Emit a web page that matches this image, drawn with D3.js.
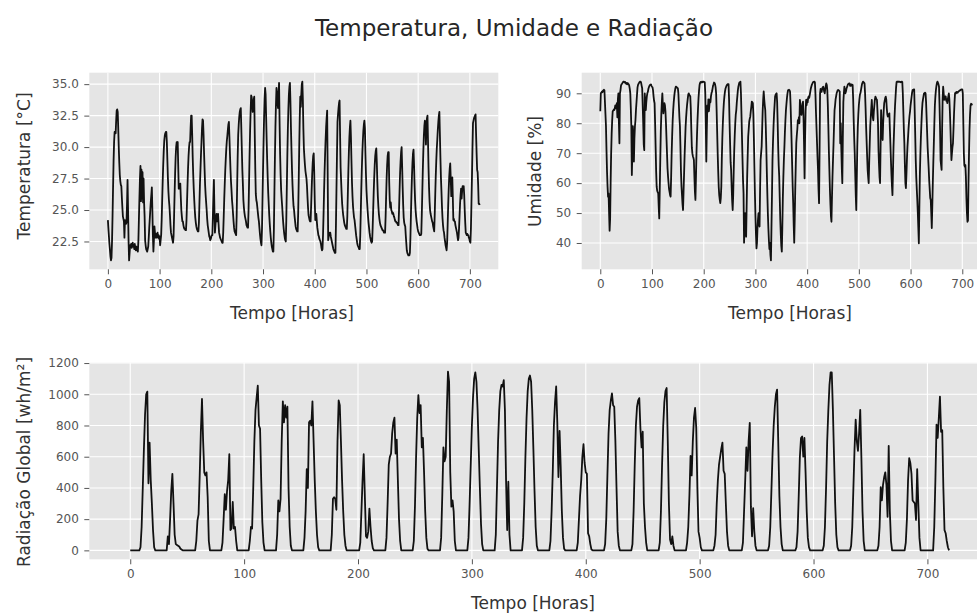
<!DOCTYPE html>
<html>
<head>
<meta charset="utf-8">
<script src="https://cdn.jsdelivr.net/npm/d3@7"></script>
<style>
  body { margin: 0; background: #ffffff; }
  svg { display: block; }
  text { font-family: "DejaVu Sans", "Noto Sans", sans-serif; }
</style>
</head>
<body>
<svg id="chart" width="977" height="614"></svg>
<script>
// Hourly readings, one day (24 values) per line
const temperatura = [
  24.2,23.5,22.9,22.3,21.8,21.3,21.0,21.2,22.5,24.5,26.8,28.9,30.4,31.2,31.1,31.1,32.1,32.9,33.0,32.8,31.5,30.0,28.8,27.8,
  27.3,27.0,26.9,26.0,25.2,24.5,24.3,24.1,22.8,24.2,24.0,23.9,24.0,25.5,27.4,25.0,22.5,21.0,21.6,22.2,22.1,22.3,22.0,22.2,
  22.4,22.1,22.2,21.9,22.3,22.0,21.8,22.1,21.9,21.8,21.7,22.6,24.3,26.0,27.5,28.5,25.7,28.2,25.9,28.0,25.6,27.5,25.6,24.5,
  22.6,22.2,21.9,21.8,21.7,21.9,22.1,22.8,23.6,24.3,25.0,25.7,26.2,26.8,25.0,23.0,21.7,22.6,23.7,23.2,22.8,23.1,22.8,23.0,
  23.2,22.8,23.0,22.7,22.9,22.2,22.6,23.0,24.2,25.8,27.3,28.6,29.7,30.5,30.9,31.1,31.2,31.2,30.4,29.0,27.6,26.5,25.8,25.3,
  24.6,23.8,23.2,23.0,22.8,22.6,22.4,22.9,24.5,26.3,27.9,29.2,30.0,30.4,30.3,30.4,28.5,26.7,26.7,27.0,27.1,26.0,25.0,24.5,
  24.1,24.1,23.8,23.6,23.5,23.5,23.4,23.4,24.2,25.6,27.0,28.3,29.3,30.0,30.4,30.4,31.6,32.5,32.5,31.0,29.2,27.8,26.7,25.8,
  25.0,24.4,24.0,23.7,23.5,23.4,23.3,23.3,24.0,25.5,27.0,28.2,29.4,30.4,31.5,32.2,32.1,31.0,29.5,28.2,27.0,26.2,25.6,25.0,
  24.3,23.8,23.5,23.2,22.9,22.8,22.6,22.7,22.9,23.0,23.0,24.5,26.0,27.4,25.0,23.2,23.8,24.3,24.7,24.1,24.5,24.7,23.9,23.2,
  23.0,22.8,22.7,22.6,22.5,22.4,22.4,23.2,24.5,25.9,27.1,28.2,29.1,29.9,30.5,30.9,31.4,31.8,32.0,30.8,29.5,28.3,27.3,26.6,
  25.8,25.3,24.7,24.1,23.6,23.3,23.2,23.1,23.0,24.5,27.0,29.3,31.0,31.8,32.4,32.8,33.0,33.1,31.5,29.8,28.2,27.1,25.8,25.2,
  24.8,24.5,24.3,24.1,23.8,23.7,23.6,23.6,25.0,27.2,29.4,31.3,32.8,34.1,34.0,33.4,32.8,33.0,33.8,34.0,31.0,28.3,26.3,25.8,
  25.6,25.2,24.8,24.4,24.1,23.6,23.1,22.7,22.4,22.2,23.5,25.8,28.2,30.4,32.3,33.8,34.7,34.2,32.4,30.6,29.0,27.6,26.4,25.5,
  24.6,23.9,23.3,22.8,22.4,22.1,21.9,21.7,21.7,23.5,26.4,29.2,31.6,33.4,34.7,34.3,33.5,33.1,34.2,35.1,32.0,29.5,27.8,26.6,
  25.9,25.3,24.6,24.0,23.5,23.1,22.8,22.6,22.5,24.2,26.8,29.3,31.4,33.0,34.2,34.8,35.1,33.6,31.5,29.8,28.2,27.0,26.0,25.3,
  25.0,24.5,24.1,23.7,23.5,23.4,23.3,23.3,24.8,27.3,30.0,32.3,34.0,33.2,34.2,35.0,35.2,33.8,31.5,29.9,29.2,28.6,28.1,27.8,
  27.5,26.9,26.0,25.2,24.6,24.4,24.2,24.1,24.1,25.3,26.6,27.8,28.7,29.3,29.5,28.0,25.8,24.2,24.4,24.7,24.1,23.6,23.3,23.0,
  22.9,22.7,22.6,22.5,22.3,22.0,21.8,21.9,23.0,24.6,26.4,28.0,29.4,30.6,31.6,32.3,32.9,28.0,22.6,22.9,23.1,23.2,23.2,22.9,
  22.7,22.5,22.3,22.1,21.9,21.8,21.7,21.6,21.6,23.8,26.6,29.4,32.0,32.6,33.1,33.5,33.7,31.0,28.4,27.3,26.3,25.5,25.0,24.6,
  24.3,24.0,23.8,23.7,23.6,23.5,23.5,24.5,26.3,28.1,29.6,30.8,31.6,32.1,30.8,28.9,27.2,26.1,25.3,24.8,24.4,24.2,23.8,23.4,
  23.0,22.7,22.4,22.2,22.1,22.0,21.9,21.9,23.0,24.8,26.6,28.2,29.5,30.5,31.3,31.8,32.1,31.5,29.6,27.9,26.6,25.8,25.1,24.5,
  24.0,23.6,23.2,22.9,22.7,22.5,22.4,22.5,23.6,25.0,26.4,27.6,28.6,29.3,29.7,29.9,28.8,27.3,26.1,25.3,24.7,24.3,24.0,23.8,
  23.7,23.6,23.5,23.4,23.4,23.3,23.2,23.2,23.2,24.4,26.0,27.5,28.6,29.3,29.6,29.6,27.2,25.8,25.2,25.6,25.0,24.9,24.7,24.8,
  24.7,24.5,24.4,24.2,24.1,24.1,24.0,24.0,23.9,23.8,23.8,25.0,26.5,27.9,28.9,29.6,30.0,28.5,26.8,25.4,24.4,24.0,23.8,23.7,
  23.0,22.4,21.8,21.6,21.5,21.4,21.4,21.4,21.6,22.8,24.6,26.3,27.7,28.8,29.5,29.8,28.6,27.0,25.8,25.0,24.5,24.1,23.8,23.5,
  23.3,23.2,23.1,23.0,23.0,23.0,23.1,24.6,26.4,28.2,29.7,30.9,31.7,32.1,31.9,30.2,31.6,32.3,32.5,30.5,28.4,26.8,25.7,25.0,
  24.7,24.5,24.3,24.1,24.0,23.7,23.5,23.3,24.6,26.2,27.7,28.9,29.9,30.6,31.4,32.0,32.5,32.8,31.0,29.2,27.6,26.5,25.3,24.4,
  23.8,23.4,23.2,22.8,22.5,22.2,22.0,21.8,22.4,23.8,25.3,26.6,27.6,28.3,28.7,27.5,26.1,26.9,27.6,26.0,24.2,24.3,24.1,24.1,
  23.8,23.6,23.4,23.2,22.9,22.6,22.8,23.5,24.5,25.5,26.2,26.7,25.9,26.5,26.9,26.6,26.9,26.2,25.0,24.0,23.2,23.1,23.0,23.1,
  23.0,23.0,22.8,22.7,22.5,22.4,23.5,25.5,27.6,29.9,31.9,32.1,32.3,32.4,32.5,32.6,31.0,29.5,28.2,28.0,27.0,25.5,25.5,25.4
];

const umidade = [
  84,90,90.2,90.5,90.3,90.8,91,91.2,91,87,83,79,71,64,59,55.5,56.6,50,44.1,48,60,70,76.6,81,
  84,84.2,84.5,84.4,85,86,85,85.5,86.7,82,88,90,80,73.3,90,91,92.5,93,93.2,93.5,93.8,93.9,93.9,93.6,
  93.8,93.5,93.2,93.5,93,93.4,93.2,93,92.5,91.5,90,85,79,62.7,70,79,73,67.2,75,79,81,84.4,87,89.5,
  92,92.8,93.2,93.5,93.8,93.9,93.9,93.5,92.5,91.7,86,80,73,71,90,86,84.4,87,89,90,90.5,91.5,92,92.5,
  92.8,92.8,93,92.5,92.2,92,91,89,87.5,86.7,80,72,64,58.8,57.5,57,56.6,52,48.2,58,68,77.2,83,87,
  90,86,83.3,85,86.7,86,84,80,75,70,65,62.2,60,58,57,56,55.5,62,70,76,81,84.4,87,89,
  90.5,91.5,92.2,92.2,92,91.8,91.7,90,86,82,79,72,64,59,56,53,51,57,63,69,74,79,82,84.5,
  86.5,88,89.5,90,89.5,89.2,89,85,78,72,70,69,68.5,67.7,62,57,54.4,62,70,76,81,85,88.5,91,
  92.8,93.5,93.8,93.6,93.8,93.9,93.7,93.9,93.8,93.8,93.7,90,80,67.2,78,86,83.9,88,84,86,88,87,89,90,
  90.6,91.5,92.5,93,93.6,93.4,93,92,90,84,77,70,64,58.8,56,54.5,53.3,55,58.8,68,75,80,84,87,
  89,90.5,91.5,92,92.5,92.8,93,93.1,93.1,88,80,73.3,67,64.4,58.8,54,51,56,64,71,76,80,83,84.4,
  87,89,91,92.2,93,93.6,93.7,93.9,90,83,75.5,68,61,56.6,40.1,46,50,45,42.1,52,62,69,75.5,78,
  80.5,81.5,82.2,84,85.5,87.2,87,86.7,83,75,66,56.6,49,43,38.2,40,45,48,50,47,45.5,58,67.7,70,
  72.2,78,84,88,90.6,88,86,84.4,79,72,64,56.6,50,45,41,38,40,36,34.2,45,56,67.7,74,79,
  83,86,88.9,89.5,89.8,90,87,80,72,66,62.2,55,48,43,39,37.1,45,55,62,67.7,72,77,81,84.4,
  86.5,88.5,90,91,91.1,91.2,91,90.5,86,80,73.3,66,59,53.3,46,40.1,48,58,66,73.3,76,78,81,80,
  82,80,87.8,86,84,82.8,85,86.5,87.2,82,73,61.6,75,84,87.8,86,88,87,88.5,89,88.5,89.4,90.5,91.5,
  92.2,92.8,93.2,93.6,93.8,93.8,93.9,93.7,90,84,79,74,69,64.4,58,53.3,70,90,91.5,91,90.5,91.5,92,92.2,
  91.5,90.5,90,91.5,92.5,93.3,92.8,91,86,79,71,64.4,58,53,49,47.1,55,62,67.7,73,79,84.4,86,88,
  89,90,90.5,91,91.1,91,90.8,90.6,73.3,80,72,65,60,75,87,90,92.2,91,90,90.6,91.5,92,92.5,93,
  93.2,93.3,93.3,92.5,93,92.5,93,92.8,92.8,88,81,75,70,63,56,51,62,72,79,83,86,88,89.5,90,
  91,92,93,93.5,93.9,93.8,93.5,93.3,90,85,79,74,69,64.4,62,60,67,73,79,82,85,87.8,84,82,
  81,84,86,88,88.9,88.5,88,87.8,84,80,71,66,62,60,72,84.4,80,76,74.4,80,84,86.7,87.5,88.5,
  88.9,88,85,83,82.2,82.5,83,83.3,78,73,67.7,63,59,56,64,72,77,82,86,89,92,93.8,93.9,93.8,
  93.9,93.8,93.9,93.8,93.8,93.7,93.8,93.9,93.8,90,84,78,73.3,66,60,58.3,63,68,72.2,75,78,80.5,82.5,84,
  86,87.5,89,90.3,91.1,91.2,91.3,91.3,84,76,67.7,62,58,54.4,50,45,39.9,52,63,70,75.5,80,84,86.7,
  88,89,90,90,90.2,90,87,82,77,72,68.5,65,61,58,55,54.4,50,45,52,60,67,73.3,80,86,
  89,91.1,92.5,93.5,93.9,93.5,93,92.2,86,78,67.7,66,64.4,78,88,92.2,90,87.8,88.5,89,88.9,87.5,88,86.7,
  88,89,90,88,84,79,73,67.7,70,72,73.3,78,83,87,90,90.2,90,90.5,90.4,90.2,90.5,90.6,90.8,91,
  91,91.2,91.3,91.2,91.3,90,80,70,66,65.5,66,62,55,50,47.1,47.5,60,70,78,83,86,86.5,86.4,86
];

const radiacao = [
  0,0,0,0,0,0,0,0,0,20,150,400,650,870,1000,1017,430,690,450,300,130,20,0,0,
  0,0,0,0,0,0,0,0,0,90,40,200,380,490,300,100,40,35,30,25,12,5,0,0,
  0,0,0,0,0,0,0,0,0,0,60,190,230,480,760,970,700,500,480,500,340,60,0,0,
  0,0,0,0,0,0,0,0,0,50,200,360,260,380,450,616,130,140,310,140,150,60,0,0,
  0,0,0,0,0,0,0,0,0,60,150,140,400,700,900,980,1055,800,780,450,180,50,0,0,
  0,0,0,0,0,0,0,0,0,100,320,250,330,700,955,820,930,850,920,400,150,30,0,0,
  0,0,0,0,0,0,0,0,0,80,250,520,400,820,830,800,955,700,450,250,100,20,0,0,
  0,0,0,0,0,0,0,0,0,100,330,340,330,260,700,960,930,700,450,250,100,30,0,0,
  0,0,0,0,0,0,0,0,0,0,50,250,450,616,350,90,80,120,268,150,60,15,0,0,
  0,0,0,0,0,0,0,0,0,80,300,550,600,620,750,820,850,620,710,450,200,60,0,0,
  0,0,0,0,0,0,0,0,0,60,280,600,850,995,880,930,660,720,500,250,80,10,0,0,
  0,0,0,0,0,0,0,0,0,80,350,660,570,600,900,1145,1080,500,280,320,250,60,0,0,
  0,0,0,0,0,0,0,0,0,80,300,550,800,980,1100,1140,1080,900,650,400,170,40,0,0,
  0,0,0,0,0,0,0,0,0,100,400,700,900,1020,1060,1050,1090,900,450,130,440,100,0,0,
  0,0,0,0,0,0,0,0,0,80,300,600,850,1020,1100,1120,1080,900,650,380,150,30,0,0,
  0,0,0,0,0,0,0,0,0,60,250,500,800,950,1050,820,470,765,530,250,80,10,0,0,
  0,0,0,0,0,0,0,0,0,50,200,350,450,600,680,560,500,490,110,90,40,5,0,0,
  0,0,0,0,0,0,0,0,0,40,200,480,750,900,960,1005,930,920,700,400,120,30,0,0,
  0,0,0,0,0,0,0,0,0,40,250,550,800,920,960,975,780,660,760,300,150,50,0,0,
  0,0,0,0,0,0,0,0,0,50,250,550,800,950,1020,1040,700,300,70,40,90,30,0,0,
  0,0,0,0,0,0,0,0,0,50,150,350,605,480,700,850,912,785,400,120,80,20,0,0,
  0,0,0,0,0,0,0,0,0,30,100,300,450,550,600,650,690,510,490,300,120,30,0,0,
  0,0,0,0,0,0,0,0,0,0,50,250,450,660,510,700,817,280,90,270,120,30,0,0,
  0,0,0,0,0,0,0,0,0,30,150,380,620,800,920,1000,1030,700,350,150,40,0,0,0,
  0,0,0,0,0,0,0,0,0,20,120,350,600,720,730,600,720,500,250,80,20,0,0,0,
  0,0,0,0,0,0,0,0,0,30,150,400,700,900,1060,1140,1140,900,600,300,100,20,0,0,
  0,0,0,0,0,0,0,0,0,30,150,400,650,838,700,637,750,900,600,250,60,0,0,0,
  0,0,0,0,0,0,0,0,0,30,150,405,320,420,468,500,420,215,670,250,60,0,0,0,
  0,0,0,0,0,0,0,0,0,50,200,450,590,560,490,320,310,300,195,520,300,80,0,0,
  0,0,0,0,0,0,0,0,0,0,150,450,806,720,850,985,760,770,400,130,110,60,20,0
];

// Tick values
const tempoTicks = [0, 100, 200, 300, 400, 500, 600, 700];
const temperaturaTicks = [22.5, 25.0, 27.5, 30.0, 32.5, 35.0];
const umidadeTicks = [40, 50, 60, 70, 80, 90];
const radiacaoTicks = [0, 200, 400, 600, 800, 1000, 1200];

const horas = d3.range(temperatura.length);

// 5% margin on both ends of a data range
function comMargem(ext) {
  const m = (ext[1] - ext[0]) * 0.05;
  return [ext[0] - m, ext[1] + m];
}

const svg = d3.select("#chart");

svg.append("text")
  .attr("x", 514).attr("y", 36)
  .attr("text-anchor", "middle")
  .attr("font-size", 23)
  .attr("fill", "#262626")
  .text("Temperatura, Umidade e Radiação");

let clipId = 0;

function painel(cfg) {
  const { x0, x1, y0, y1, valores, yTicks, yFmt, xLabel, yLabel } = cfg;
  const x = d3.scaleLinear().domain(comMargem(d3.extent(horas))).range([x0, x1]);
  const y = d3.scaleLinear().domain(comMargem(d3.extent(valores))).range([y1, y0]);
  const g = svg.append("g");

  g.append("rect")
    .attr("x", x0).attr("y", y0)
    .attr("width", x1 - x0).attr("height", y1 - y0)
    .attr("fill", "#E5E5E5");

  // grid
  g.append("g").selectAll("line").data(tempoTicks).join("line")
    .attr("x1", d => x(d)).attr("x2", d => x(d))
    .attr("y1", y0).attr("y2", y1)
    .attr("stroke", "#ffffff").attr("stroke-width", 1.1);
  g.append("g").selectAll("line").data(yTicks).join("line")
    .attr("x1", x0).attr("x2", x1)
    .attr("y1", d => y(d)).attr("y2", d => y(d))
    .attr("stroke", "#ffffff").attr("stroke-width", 1.1);

  // axes
  const ax = g.append("g")
    .attr("transform", `translate(0,${y1})`)
    .call(d3.axisBottom(x).tickValues(tempoTicks).tickFormat(d3.format("d")).tickSize(5).tickPadding(5.5));
  const ay = g.append("g")
    .attr("transform", `translate(${x0},0)`)
    .call(d3.axisLeft(y).tickValues(yTicks).tickFormat(yFmt).tickSize(5).tickPadding(5.5));
  [ax, ay].forEach(a => {
    a.select(".domain").remove();
    a.selectAll(".tick line").attr("stroke", "#555555").attr("stroke-width", 1);
    a.selectAll(".tick text")
      .attr("fill", "#555555")
      .attr("font-size", 12)
      .attr("font-family", '"DejaVu Sans", sans-serif');
  });

  // series line, clipped to the plotting area
  const id = "clip" + (clipId++);
  svg.append("clipPath").attr("id", id)
    .append("rect").attr("x", x0).attr("y", y0)
    .attr("width", x1 - x0).attr("height", y1 - y0);
  g.append("path")
    .datum(valores)
    .attr("clip-path", `url(#${id})`)
    .attr("fill", "none")
    .attr("stroke", "#111111")
    .attr("stroke-width", 1.8)
    .attr("stroke-linejoin", "round")
    .attr("d", d3.line().x((d, i) => x(horas[i])).y(d => y(d)));

  // axis labels
  g.append("text")
    .attr("x", xLabel.x).attr("y", xLabel.y)
    .attr("text-anchor", "middle")
    .attr("font-size", 17)
    .attr("fill", "#333333")
    .text("Tempo [Horas]");
  g.append("text")
    .attr("transform", `translate(${yLabel.x},${yLabel.y}) rotate(-90)`)
    .attr("text-anchor", "middle")
    .attr("font-size", 17)
    .attr("fill", "#333333")
    .text(yLabel.text);
}

painel({
  x0: 89.3, x1: 498.3, y0: 72.7, y1: 269.3,
  valores: temperatura, yTicks: temperaturaTicks, yFmt: d3.format(".1f"),
  xLabel: { x: 292, y: 319 },
  yLabel: { x: 29.5, y: 166, text: "Temperatura [°C]" }
});

painel({
  x0: 581.7, x1: 990.7, y0: 72.7, y1: 269.3,
  valores: umidade, yTicks: umidadeTicks, yFmt: d3.format("d"),
  xLabel: { x: 790, y: 319 },
  yLabel: { x: 540.5, y: 171.5, text: "Umidade [%]" }
});

painel({
  x0: 89.3, x1: 990, y0: 362.7, y1: 559.3,
  valores: radiacao, yTicks: radiacaoTicks, yFmt: d3.format("d"),
  xLabel: { x: 533, y: 609 },
  yLabel: { x: 29.5, y: 462, text: "Radiação Global [wh/m²]" }
});
</script>
</body>
</html>
